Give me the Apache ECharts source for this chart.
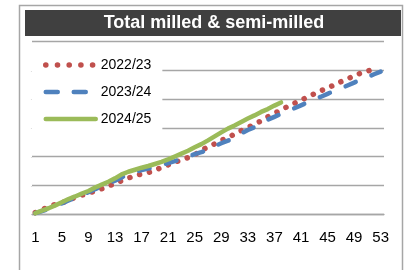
<!DOCTYPE html>
<html>
<head>
<meta charset="utf-8">
<script src="https://cdn.jsdelivr.net/npm/echarts@6/dist/echarts.min.js"></script>
<style>
html, body { margin: 0; padding: 0; background: #fff; }
#chart { width: 404px; height: 270px; }
</style>
</head>
<body>
<div id="chart"></div>
<script>
var chartTitle = 'Total milled & semi-milled';
var weeks = ['1','2','3','4','5','6','7','8','9','10','11','12','13','14','15','16','17','18','19','20',
    '21','22','23','24','25','26','27','28','29','30','31','32','33','34','35','36','37','38','39','40',
    '41','42','43','44','45','46','47','48','49','50','51','52','53'];
var seriesNames = ['2022/23', '2023/24', '2024/25'];
// cumulative (no y labels in the source)
var season2223 = [0.05, 0.15, 0.25, 0.33, 0.39, 0.47, 0.58, 0.66, 0.72, 0.80,
    0.88, 0.97, 1.06, 1.16, 1.25, 1.33, 1.39, 1.44, 1.52, 1.62,
    1.71, 1.80, 1.88, 1.96, 2.06, 2.22, 2.33, 2.44, 2.56, 2.66,
    2.78, 2.90, 3.01, 3.12, 3.24, 3.38, 3.50, 3.62, 3.74, 3.85,
    3.96, 4.07, 4.18, 4.29, 4.38, 4.49, 4.60, 4.70, 4.80, 4.90,
    4.97, 5.04];
var season2324 = [0.03, 0.10, 0.18, 0.27, 0.37, 0.47, 0.57, 0.67, 0.76, 0.86,
    0.96, 1.06, 1.16, 1.27, 1.38, 1.46, 1.53, 1.58, 1.64, 1.70,
    1.77, 1.84, 1.92, 2.00, 2.08, 2.15, 2.24, 2.36, 2.46, 2.55,
    2.66, 2.80, 2.92, 3.02, 3.14, 3.28, 3.38, 3.48, 3.58, 3.68,
    3.78, 3.88, 3.98, 4.08, 4.18, 4.28, 4.37, 4.47, 4.57, 4.67,
    4.76, 4.86, 4.95];
var season2425 = [0.03, 0.12, 0.20, 0.30, 0.41, 0.52, 0.61, 0.71, 0.80, 0.92,
    1.02, 1.12, 1.24, 1.38, 1.47, 1.54, 1.61, 1.67, 1.74, 1.81,
    1.90, 2.00, 2.10, 2.20, 2.32, 2.43, 2.56, 2.70, 2.84, 2.97,
    3.08, 3.20, 3.32, 3.43, 3.55, 3.65, 3.77, 3.88];

var gridColor = '#a6a6a6';
var baseFont = 'Liberation Sans';
var colors = ['#c0504d', '#4f81bd', '#9bbb59'];

var myChart = echarts.init(document.getElementById('chart'));

myChart.setOption({
    animation: false,
    backgroundColor: '#fff',
    graphic: [
        {
            type: 'rect',
            shape: {x: 19.5, y: 5.5, width: 383, height: 300},
            style: {fill: null, stroke: gridColor, lineWidth: 1.5},
            silent: true
        },
        {
            type: 'rect',
            shape: {x: 25, y: 10, width: 376, height: 26},
            style: {fill: '#404040'},
            silent: true
        },
        {
            type: 'text',
            style: {
                text: chartTitle,
                x: 214, y: 23.5,
                align: 'center', verticalAlign: 'middle',
                font: 'bold 18px "Liberation Sans"',
                fill: '#fff'
            },
            silent: true
        }
    ],
    grid: {left: 32, right: 20, top: 41.5, bottom: 56},
    legend: {
        orient: 'vertical',
        left: 32,
        top: 49,
        padding: [9, 11, 9, 11],
        backgroundColor: '#fff',
        itemWidth: 50,
        itemHeight: 14,
        itemGap: 13,
        itemTextGap: 2,
        itemStyle: {opacity: 0},
        textStyle: {fontFamily: baseFont, fontSize: 14, color: '#000'},
        data: [
            {name: seriesNames[0], lineStyle: {width: 5.5, type: [0.1, 11.6], cap: 'round'}},
            {name: seriesNames[1], lineStyle: {width: 4.5, type: [12, 16], cap: 'round'}},
            {name: seriesNames[2], lineStyle: {width: 4.5}}
        ]
    },
    xAxis: {
        type: 'category',
        data: weeks,
        axisLine: {lineStyle: {color: gridColor, width: 1.3}},
        axisTick: {interval: 0, length: 4, lineStyle: {color: gridColor}},
        axisLabel: {
            interval: 3,
            margin: 16,
            fontFamily: baseFont,
            fontSize: 15,
            color: '#000'
        }
    },
    yAxis: {
        type: 'value',
        min: 0,
        max: 6,
        interval: 1,
        axisLine: {show: false},
        axisTick: {show: false},
        axisLabel: {
            margin: 0,
            fontSize: 5,
            color: '#777',
            formatter: function (v) { return (v > 0 && v < 6) ? '.' : ''; }
        },
        splitLine: {lineStyle: {color: gridColor, width: 1.3}}
    },
    series: [
        {
            name: seriesNames[0],
            type: 'line',
            data: season2223,
            symbol: 'none',
            z: 2,
            lineStyle: {color: colors[0], width: 5.5, type: [0.1, 10], cap: 'round'},
            itemStyle: {color: colors[0]}
        },
        {
            name: seriesNames[1],
            type: 'line',
            data: season2324,
            symbol: 'none',
            z: 3,
            lineStyle: {color: colors[1], width: 4.5, type: [11, 17], cap: 'round'},
            itemStyle: {color: colors[1]}
        },
        {
            name: seriesNames[2],
            type: 'line',
            data: season2425,
            symbol: 'none',
            z: 4,
            lineStyle: {color: colors[2], width: 4.5, cap: 'round'},
            itemStyle: {color: colors[2]}
        }
    ]
});
</script>
</body>
</html>
